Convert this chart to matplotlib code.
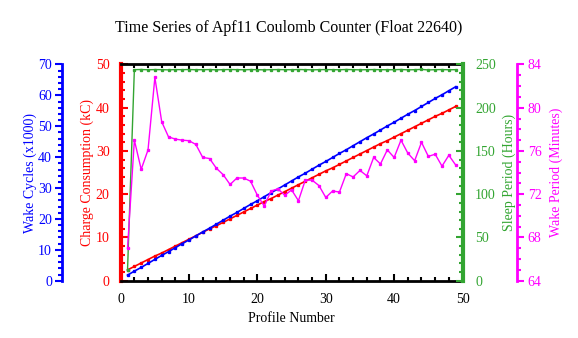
import matplotlib
matplotlib.use("Agg")
import matplotlib.pyplot as plt
from matplotlib.ticker import MultipleLocator

plt.rcParams['font.family'] = ['Liberation Serif', 'DejaVu Serif']

# --- Data ---
profiles = list(range(1, 50))
wake_cycles = [1.8, 3.1, 4.3, 5.6, 6.9, 8.2, 9.4, 10.7, 12.0, 13.2,
               14.5, 15.8, 17.0, 18.3, 19.6, 20.9, 22.1, 23.4, 24.7, 25.9,
               27.2, 28.5, 29.7, 31.0, 32.3, 33.6, 34.8, 36.1, 37.4, 38.6,
               39.9, 41.2, 42.4, 43.7, 45.0, 46.3, 47.5, 48.8, 50.1, 51.3,
               52.6, 53.9, 55.1, 56.4, 57.7, 59.0, 60.2, 61.5, 62.8]
charge_kc = [2.5, 3.3, 4.1, 4.9, 5.7, 6.4, 7.2, 8.0, 8.8, 9.6,
             10.4, 11.2, 12.0, 12.7, 13.5, 14.3, 15.1, 15.9, 16.7, 17.5,
             18.3, 19.0, 19.8, 20.6, 21.4, 22.2, 23.0, 23.8, 24.6, 25.4,
             26.1, 26.9, 27.7, 28.5, 29.3, 30.1, 30.9, 31.7, 32.4, 33.2,
             34.0, 34.8, 35.6, 36.4, 37.2, 38.0, 38.7, 39.5, 40.3]
sleep_hours = [12, 244.0, 244.2, 243.9, 244.1, 244.0, 243.8, 244.1, 244.0, 244.2,
               243.9, 244.0, 244.1, 243.8, 244.0, 244.2, 244.0, 243.9, 244.1, 244.0,
               243.8, 244.0, 244.1, 244.0, 243.9, 244.2, 244.0, 243.8, 244.0, 244.1,
               244.0, 243.9, 244.2, 244.0, 243.8, 244.0, 244.1, 244.0, 243.9, 244.0,
               244.2, 243.8, 244.0, 244.3, 243.7, 244.0, 244.1, 243.9, 244.0]
wake_minutes = [67.0, 77.0, 74.3, 76.1, 82.8, 78.7, 77.3, 77.1, 77.0, 76.95,
                76.6, 75.4, 75.3, 74.4, 73.8, 72.9, 73.5, 73.5, 73.2, 71.9,
                70.9, 72.3, 72.5, 71.9, 72.4, 71.4, 73.3, 73.3, 72.8, 71.7,
                72.3, 72.2, 73.9, 73.6, 74.2, 73.7, 75.4, 74.8, 76.1, 75.4,
                77.0, 75.8, 75.1, 76.8, 75.5, 75.7, 74.6, 75.6, 74.7]

BLUE, RED, GREEN, MAG = '#0000ff', '#ff0000', '#33a532', '#ff00ff'

fig = plt.figure(figsize=(5.78, 3.38), dpi=100)
ax = fig.add_axes([0.2088, 0.1695, 0.5914, 0.6397])
ax_b = ax.twinx()
ax_g = ax.twinx()
ax_m = ax.twinx()

# --- Lines ---
ax_b.plot(profiles, wake_cycles, '-s', color=BLUE, lw=1.2, ms=1.4)
ax.plot(profiles, charge_kc, '-s', color=RED, lw=1.2, ms=1.4)
ax_g.plot(profiles, sleep_hours, '-s', color=GREEN, lw=1.0, ms=1.4)
ax_m.plot(profiles, wake_minutes, '-s', color=MAG, lw=1.0, ms=1.4)

# --- Main axis (red, x axis) ---
ax.set_xlim(0, 50)
ax.set_ylim(0, 50)
ax.xaxis.set_major_locator(MultipleLocator(10))
ax.xaxis.set_minor_locator(MultipleLocator(2))
ax.yaxis.set_major_locator(MultipleLocator(10))
ax.yaxis.set_minor_locator(MultipleLocator(2))
ax.tick_params(axis='x', which='both', direction='in', top=True, colors='black',
               labelsize=10, width=1.5, pad=9)
ax.tick_params(axis='x', which='major', length=5)
ax.tick_params(axis='x', which='minor', length=3)
ax.tick_params(axis='y', which='both', direction='in', colors=RED,
               labelsize=10, width=1.5, pad=8)
ax.tick_params(axis='y', which='major', length=5)
ax.tick_params(axis='y', which='minor', length=3)
ax.spines['left'].set_color(RED)
ax.spines['left'].set_linewidth(3)
ax.spines['top'].set_linewidth(2)
ax.spines['bottom'].set_linewidth(2)
ax.spines['right'].set_visible(False)
ax.set_xlabel('Profile Number', fontsize=10, labelpad=4)
ax.set_ylabel('Charge Consumption (kC)', color=RED, fontsize=10, labelpad=1)

# --- Blue axis (far left) ---
ax_b.set_ylim(0, 70)
ax_b.yaxis.set_major_locator(MultipleLocator(10))
ax_b.yaxis.set_minor_locator(MultipleLocator(2))
ax_b.yaxis.set_ticks_position('left')
ax_b.yaxis.set_label_position('left')
ax_b.spines['left'].set_position(('outward', 59 * 0.72))
for s in ['right', 'top', 'bottom']:
    ax_b.spines[s].set_visible(False)
ax_b.spines['left'].set_color(BLUE)
ax_b.spines['left'].set_linewidth(2)
ax_b.tick_params(axis='y', which='both', direction='out', colors=BLUE,
                 labelsize=10, width=1.5, pad=2)
ax_b.tick_params(axis='y', which='major', length=5)
ax_b.tick_params(axis='y', which='minor', length=3)
ax_b.set_ylabel('Wake Cycles (x1000)', color=BLUE, fontsize=10, labelpad=1)

# --- Green axis (right) ---
ax_g.set_ylim(0, 250)
ax_g.yaxis.set_major_locator(MultipleLocator(50))
ax_g.yaxis.set_minor_locator(MultipleLocator(10))
for s in ['left', 'top', 'bottom']:
    ax_g.spines[s].set_visible(False)
ax_g.spines['right'].set_color(GREEN)
ax_g.spines['right'].set_linewidth(3)
ax_g.tick_params(axis='y', which='both', direction='in', colors=GREEN,
                 labelsize=10, width=1.5, pad=9)
ax_g.tick_params(axis='y', which='major', length=5)
ax_g.tick_params(axis='y', which='minor', length=3)
ax_g.set_ylabel('Sleep Period (Hours)', color=GREEN, fontsize=10, labelpad=5)

# --- Magenta axis (far right) ---
ax_m.set_ylim(64, 84)
ax_m.yaxis.set_major_locator(MultipleLocator(4))
ax_m.yaxis.set_minor_locator(MultipleLocator(1))
ax_m.spines['right'].set_position(('outward', 54 * 0.72))
for s in ['left', 'top', 'bottom']:
    ax_m.spines[s].set_visible(False)
ax_m.spines['right'].set_color(MAG)
ax_m.spines['right'].set_linewidth(2)
ax_m.tick_params(axis='y', which='both', direction='out', colors=MAG,
                 labelsize=10, width=1.5, pad=3)
ax_m.tick_params(axis='y', which='major', length=5)
ax_m.tick_params(axis='y', which='minor', length=3)
ax_m.set_ylabel('Wake Period (Minutes)', color=MAG, fontsize=10, labelpad=6)

fig.text(0.5, 0.917, 'Time Series of Apf11 Coulomb Counter (Float 22640)',
         ha='center', va='center', fontsize=11.5)

fig.savefig('out.png', dpi=100)
